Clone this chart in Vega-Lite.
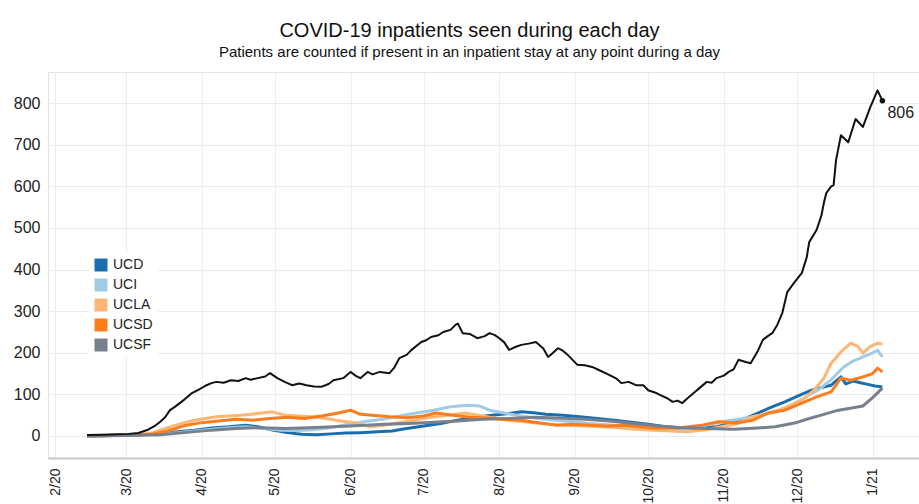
{
  "$schema": "https://vega.github.io/schema/vega-lite/v6.json",
  "width": 871,
  "height": 386,
  "autosize": {"type": "none"},
  "padding": {"left": 48, "top": 72, "right": 0, "bottom": 46},
  "background": "white",
  "config": {
    "font": "Liberation Sans",
    "view": {"stroke": "#e2e2e2", "strokeWidth": 1}
  },
  "title": {
    "text": "COVID-19 inpatients seen during each day",
    "subtitle": "Patients are counted if present in an inpatient stay at any point during a day",
    "anchor": "middle",
    "dx": -14,
    "offset": 12,
    "font": "Liberation Sans",
    "fontSize": 20,
    "fontWeight": "normal",
    "color": "#111111",
    "subtitleFont": "Liberation Sans",
    "subtitleFontSize": 15,
    "subtitleColor": "#111111",
    "subtitlePadding": 4
  },
  "datasets": {
    "total": [
      {"date": "2020-02-14", "value": 2}, {"date": "2020-02-20", "value": 3}, {"date": "2020-02-26", "value": 4},
      {"date": "2020-03-02", "value": 5}, {"date": "2020-03-06", "value": 7}, {"date": "2020-03-10", "value": 15},
      {"date": "2020-03-13", "value": 25}, {"date": "2020-03-15", "value": 34}, {"date": "2020-03-17", "value": 45},
      {"date": "2020-03-19", "value": 62}, {"date": "2020-03-21", "value": 70}, {"date": "2020-03-23", "value": 79},
      {"date": "2020-03-25", "value": 88}, {"date": "2020-03-28", "value": 103}, {"date": "2020-03-31", "value": 112},
      {"date": "2020-04-03", "value": 122}, {"date": "2020-04-05", "value": 127}, {"date": "2020-04-07", "value": 130},
      {"date": "2020-04-10", "value": 128}, {"date": "2020-04-13", "value": 134}, {"date": "2020-04-16", "value": 132},
      {"date": "2020-04-19", "value": 139}, {"date": "2020-04-21", "value": 135}, {"date": "2020-04-24", "value": 139},
      {"date": "2020-04-27", "value": 143}, {"date": "2020-04-29", "value": 151}, {"date": "2020-05-02", "value": 139},
      {"date": "2020-05-05", "value": 130}, {"date": "2020-05-08", "value": 122}, {"date": "2020-05-11", "value": 126},
      {"date": "2020-05-14", "value": 122}, {"date": "2020-05-17", "value": 119}, {"date": "2020-05-20", "value": 118},
      {"date": "2020-05-23", "value": 125}, {"date": "2020-05-25", "value": 134}, {"date": "2020-05-29", "value": 139},
      {"date": "2020-06-01", "value": 154}, {"date": "2020-06-03", "value": 145}, {"date": "2020-06-05", "value": 139},
      {"date": "2020-06-08", "value": 154}, {"date": "2020-06-10", "value": 148}, {"date": "2020-06-13", "value": 154},
      {"date": "2020-06-17", "value": 151}, {"date": "2020-06-19", "value": 165}, {"date": "2020-06-21", "value": 187},
      {"date": "2020-06-24", "value": 195}, {"date": "2020-06-26", "value": 207}, {"date": "2020-06-30", "value": 226},
      {"date": "2020-07-02", "value": 230}, {"date": "2020-07-04", "value": 238}, {"date": "2020-07-07", "value": 242},
      {"date": "2020-07-09", "value": 250}, {"date": "2020-07-12", "value": 255}, {"date": "2020-07-14", "value": 267},
      {"date": "2020-07-15", "value": 270}, {"date": "2020-07-17", "value": 247}, {"date": "2020-07-20", "value": 245},
      {"date": "2020-07-23", "value": 235}, {"date": "2020-07-26", "value": 240}, {"date": "2020-07-28", "value": 247},
      {"date": "2020-07-30", "value": 243}, {"date": "2020-08-01", "value": 235}, {"date": "2020-08-03", "value": 225},
      {"date": "2020-08-05", "value": 207}, {"date": "2020-08-08", "value": 215}, {"date": "2020-08-10", "value": 219},
      {"date": "2020-08-13", "value": 222}, {"date": "2020-08-16", "value": 226}, {"date": "2020-08-19", "value": 210},
      {"date": "2020-08-21", "value": 190}, {"date": "2020-08-23", "value": 200}, {"date": "2020-08-25", "value": 211},
      {"date": "2020-08-27", "value": 205}, {"date": "2020-08-29", "value": 195}, {"date": "2020-09-02", "value": 171},
      {"date": "2020-09-05", "value": 170}, {"date": "2020-09-08", "value": 166}, {"date": "2020-09-11", "value": 158},
      {"date": "2020-09-15", "value": 147}, {"date": "2020-09-18", "value": 138}, {"date": "2020-09-20", "value": 127},
      {"date": "2020-09-23", "value": 130}, {"date": "2020-09-26", "value": 122}, {"date": "2020-09-29", "value": 122},
      {"date": "2020-10-01", "value": 110}, {"date": "2020-10-04", "value": 104}, {"date": "2020-10-06", "value": 98},
      {"date": "2020-10-09", "value": 90}, {"date": "2020-10-11", "value": 82}, {"date": "2020-10-13", "value": 85},
      {"date": "2020-10-15", "value": 79}, {"date": "2020-10-17", "value": 90}, {"date": "2020-10-20", "value": 105},
      {"date": "2020-10-22", "value": 115}, {"date": "2020-10-25", "value": 130}, {"date": "2020-10-27", "value": 128},
      {"date": "2020-10-29", "value": 139}, {"date": "2020-11-01", "value": 145}, {"date": "2020-11-03", "value": 154},
      {"date": "2020-11-05", "value": 160}, {"date": "2020-11-07", "value": 183}, {"date": "2020-11-10", "value": 178},
      {"date": "2020-11-12", "value": 175}, {"date": "2020-11-15", "value": 205}, {"date": "2020-11-17", "value": 231},
      {"date": "2020-11-19", "value": 240}, {"date": "2020-11-21", "value": 248}, {"date": "2020-11-23", "value": 268},
      {"date": "2020-11-25", "value": 296}, {"date": "2020-11-27", "value": 346}, {"date": "2020-11-30", "value": 370},
      {"date": "2020-12-03", "value": 392}, {"date": "2020-12-05", "value": 430}, {"date": "2020-12-06", "value": 466},
      {"date": "2020-12-09", "value": 495}, {"date": "2020-12-11", "value": 530}, {"date": "2020-12-12", "value": 560},
      {"date": "2020-12-13", "value": 584}, {"date": "2020-12-15", "value": 600}, {"date": "2020-12-16", "value": 603},
      {"date": "2020-12-17", "value": 663}, {"date": "2020-12-19", "value": 723}, {"date": "2020-12-22", "value": 706},
      {"date": "2020-12-25", "value": 762}, {"date": "2020-12-28", "value": 743}, {"date": "2020-12-31", "value": 790},
      {"date": "2021-01-03", "value": 831}, {"date": "2021-01-05", "value": 806}
    ],
    "last": [{"date": "2021-01-05", "value": 806, "label": "806"}],
    "campus": [
      {"campus": "UCD", "date": "2020-02-14", "value": 0}, {"campus": "UCD", "date": "2020-02-25", "value": 1},
      {"campus": "UCD", "date": "2020-03-05", "value": 2}, {"campus": "UCD", "date": "2020-03-15", "value": 5},
      {"campus": "UCD", "date": "2020-03-22", "value": 10}, {"campus": "UCD", "date": "2020-03-29", "value": 14},
      {"campus": "UCD", "date": "2020-04-05", "value": 19}, {"campus": "UCD", "date": "2020-04-12", "value": 22},
      {"campus": "UCD", "date": "2020-04-19", "value": 26}, {"campus": "UCD", "date": "2020-04-24", "value": 22},
      {"campus": "UCD", "date": "2020-04-30", "value": 14}, {"campus": "UCD", "date": "2020-05-06", "value": 8},
      {"campus": "UCD", "date": "2020-05-12", "value": 4}, {"campus": "UCD", "date": "2020-05-18", "value": 3},
      {"campus": "UCD", "date": "2020-05-24", "value": 5}, {"campus": "UCD", "date": "2020-05-30", "value": 7},
      {"campus": "UCD", "date": "2020-06-05", "value": 8}, {"campus": "UCD", "date": "2020-06-12", "value": 10},
      {"campus": "UCD", "date": "2020-06-18", "value": 12}, {"campus": "UCD", "date": "2020-06-24", "value": 18},
      {"campus": "UCD", "date": "2020-07-01", "value": 24}, {"campus": "UCD", "date": "2020-07-08", "value": 30},
      {"campus": "UCD", "date": "2020-07-15", "value": 38}, {"campus": "UCD", "date": "2020-07-22", "value": 45},
      {"campus": "UCD", "date": "2020-07-29", "value": 50}, {"campus": "UCD", "date": "2020-08-05", "value": 54},
      {"campus": "UCD", "date": "2020-08-10", "value": 58}, {"campus": "UCD", "date": "2020-08-15", "value": 56},
      {"campus": "UCD", "date": "2020-08-20", "value": 52}, {"campus": "UCD", "date": "2020-08-27", "value": 50},
      {"campus": "UCD", "date": "2020-09-03", "value": 46}, {"campus": "UCD", "date": "2020-09-10", "value": 42},
      {"campus": "UCD", "date": "2020-09-17", "value": 38}, {"campus": "UCD", "date": "2020-09-24", "value": 33},
      {"campus": "UCD", "date": "2020-10-01", "value": 28}, {"campus": "UCD", "date": "2020-10-08", "value": 22},
      {"campus": "UCD", "date": "2020-10-15", "value": 19}, {"campus": "UCD", "date": "2020-10-22", "value": 19},
      {"campus": "UCD", "date": "2020-10-29", "value": 22}, {"campus": "UCD", "date": "2020-11-05", "value": 32},
      {"campus": "UCD", "date": "2020-11-10", "value": 42}, {"campus": "UCD", "date": "2020-11-15", "value": 55},
      {"campus": "UCD", "date": "2020-11-20", "value": 68}, {"campus": "UCD", "date": "2020-11-26", "value": 82},
      {"campus": "UCD", "date": "2020-12-01", "value": 95}, {"campus": "UCD", "date": "2020-12-06", "value": 108},
      {"campus": "UCD", "date": "2020-12-10", "value": 115}, {"campus": "UCD", "date": "2020-12-15", "value": 122},
      {"campus": "UCD", "date": "2020-12-19", "value": 142}, {"campus": "UCD", "date": "2020-12-21", "value": 125},
      {"campus": "UCD", "date": "2020-12-24", "value": 132}, {"campus": "UCD", "date": "2020-12-27", "value": 128},
      {"campus": "UCD", "date": "2020-12-30", "value": 124}, {"campus": "UCD", "date": "2021-01-02", "value": 120},
      {"campus": "UCD", "date": "2021-01-05", "value": 118},

      {"campus": "UCI", "date": "2020-02-14", "value": 0}, {"campus": "UCI", "date": "2020-02-25", "value": 1},
      {"campus": "UCI", "date": "2020-03-05", "value": 2}, {"campus": "UCI", "date": "2020-03-15", "value": 4},
      {"campus": "UCI", "date": "2020-03-22", "value": 8}, {"campus": "UCI", "date": "2020-03-29", "value": 12},
      {"campus": "UCI", "date": "2020-04-05", "value": 16}, {"campus": "UCI", "date": "2020-04-12", "value": 20},
      {"campus": "UCI", "date": "2020-04-19", "value": 22}, {"campus": "UCI", "date": "2020-04-26", "value": 18},
      {"campus": "UCI", "date": "2020-05-03", "value": 14}, {"campus": "UCI", "date": "2020-05-10", "value": 13},
      {"campus": "UCI", "date": "2020-05-17", "value": 15}, {"campus": "UCI", "date": "2020-05-24", "value": 20},
      {"campus": "UCI", "date": "2020-05-31", "value": 28}, {"campus": "UCI", "date": "2020-06-07", "value": 35},
      {"campus": "UCI", "date": "2020-06-14", "value": 40}, {"campus": "UCI", "date": "2020-06-21", "value": 48},
      {"campus": "UCI", "date": "2020-06-28", "value": 55}, {"campus": "UCI", "date": "2020-07-05", "value": 62},
      {"campus": "UCI", "date": "2020-07-12", "value": 70}, {"campus": "UCI", "date": "2020-07-19", "value": 74},
      {"campus": "UCI", "date": "2020-07-24", "value": 72}, {"campus": "UCI", "date": "2020-07-28", "value": 62},
      {"campus": "UCI", "date": "2020-08-03", "value": 55}, {"campus": "UCI", "date": "2020-08-10", "value": 48},
      {"campus": "UCI", "date": "2020-08-17", "value": 42}, {"campus": "UCI", "date": "2020-08-24", "value": 38},
      {"campus": "UCI", "date": "2020-08-31", "value": 34}, {"campus": "UCI", "date": "2020-09-07", "value": 30},
      {"campus": "UCI", "date": "2020-09-14", "value": 27}, {"campus": "UCI", "date": "2020-09-21", "value": 24},
      {"campus": "UCI", "date": "2020-09-28", "value": 20}, {"campus": "UCI", "date": "2020-10-05", "value": 16},
      {"campus": "UCI", "date": "2020-10-12", "value": 14}, {"campus": "UCI", "date": "2020-10-19", "value": 18},
      {"campus": "UCI", "date": "2020-10-26", "value": 28}, {"campus": "UCI", "date": "2020-11-02", "value": 36},
      {"campus": "UCI", "date": "2020-11-09", "value": 42}, {"campus": "UCI", "date": "2020-11-16", "value": 50},
      {"campus": "UCI", "date": "2020-11-22", "value": 58}, {"campus": "UCI", "date": "2020-11-29", "value": 75},
      {"campus": "UCI", "date": "2020-12-05", "value": 95}, {"campus": "UCI", "date": "2020-12-10", "value": 112},
      {"campus": "UCI", "date": "2020-12-15", "value": 135}, {"campus": "UCI", "date": "2020-12-20", "value": 165},
      {"campus": "UCI", "date": "2020-12-24", "value": 180}, {"campus": "UCI", "date": "2020-12-28", "value": 190},
      {"campus": "UCI", "date": "2021-01-01", "value": 200}, {"campus": "UCI", "date": "2021-01-03", "value": 206},
      {"campus": "UCI", "date": "2021-01-05", "value": 190},

      {"campus": "UCLA", "date": "2020-02-14", "value": 0}, {"campus": "UCLA", "date": "2020-02-25", "value": 1},
      {"campus": "UCLA", "date": "2020-03-05", "value": 2}, {"campus": "UCLA", "date": "2020-03-12", "value": 8},
      {"campus": "UCLA", "date": "2020-03-18", "value": 20}, {"campus": "UCLA", "date": "2020-03-25", "value": 32},
      {"campus": "UCLA", "date": "2020-03-29", "value": 38}, {"campus": "UCLA", "date": "2020-04-07", "value": 46},
      {"campus": "UCLA", "date": "2020-04-17", "value": 50}, {"campus": "UCLA", "date": "2020-04-24", "value": 54},
      {"campus": "UCLA", "date": "2020-04-30", "value": 58}, {"campus": "UCLA", "date": "2020-05-05", "value": 50},
      {"campus": "UCLA", "date": "2020-05-11", "value": 48}, {"campus": "UCLA", "date": "2020-05-16", "value": 46},
      {"campus": "UCLA", "date": "2020-05-22", "value": 42}, {"campus": "UCLA", "date": "2020-05-26", "value": 38},
      {"campus": "UCLA", "date": "2020-06-03", "value": 31}, {"campus": "UCLA", "date": "2020-06-09", "value": 22},
      {"campus": "UCLA", "date": "2020-06-15", "value": 26}, {"campus": "UCLA", "date": "2020-06-20", "value": 31},
      {"campus": "UCLA", "date": "2020-06-27", "value": 38}, {"campus": "UCLA", "date": "2020-07-04", "value": 45},
      {"campus": "UCLA", "date": "2020-07-11", "value": 50}, {"campus": "UCLA", "date": "2020-07-18", "value": 55},
      {"campus": "UCLA", "date": "2020-07-25", "value": 48}, {"campus": "UCLA", "date": "2020-08-01", "value": 40},
      {"campus": "UCLA", "date": "2020-08-08", "value": 36}, {"campus": "UCLA", "date": "2020-08-15", "value": 32},
      {"campus": "UCLA", "date": "2020-08-22", "value": 28}, {"campus": "UCLA", "date": "2020-08-29", "value": 25},
      {"campus": "UCLA", "date": "2020-09-05", "value": 24}, {"campus": "UCLA", "date": "2020-09-12", "value": 22},
      {"campus": "UCLA", "date": "2020-09-19", "value": 20}, {"campus": "UCLA", "date": "2020-09-26", "value": 16},
      {"campus": "UCLA", "date": "2020-10-03", "value": 14}, {"campus": "UCLA", "date": "2020-10-10", "value": 12},
      {"campus": "UCLA", "date": "2020-10-17", "value": 10}, {"campus": "UCLA", "date": "2020-10-24", "value": 14},
      {"campus": "UCLA", "date": "2020-10-31", "value": 22}, {"campus": "UCLA", "date": "2020-11-07", "value": 30},
      {"campus": "UCLA", "date": "2020-11-13", "value": 46}, {"campus": "UCLA", "date": "2020-11-20", "value": 55},
      {"campus": "UCLA", "date": "2020-11-27", "value": 70}, {"campus": "UCLA", "date": "2020-12-03", "value": 86},
      {"campus": "UCLA", "date": "2020-12-08", "value": 110}, {"campus": "UCLA", "date": "2020-12-12", "value": 139},
      {"campus": "UCLA", "date": "2020-12-15", "value": 175}, {"campus": "UCLA", "date": "2020-12-19", "value": 202},
      {"campus": "UCLA", "date": "2020-12-23", "value": 223}, {"campus": "UCLA", "date": "2020-12-26", "value": 215},
      {"campus": "UCLA", "date": "2020-12-28", "value": 199}, {"campus": "UCLA", "date": "2020-12-31", "value": 215},
      {"campus": "UCLA", "date": "2021-01-03", "value": 223}, {"campus": "UCLA", "date": "2021-01-05", "value": 221},

      {"campus": "UCSD", "date": "2020-02-14", "value": 0}, {"campus": "UCSD", "date": "2020-02-25", "value": 1},
      {"campus": "UCSD", "date": "2020-03-05", "value": 2}, {"campus": "UCSD", "date": "2020-03-12", "value": 5},
      {"campus": "UCSD", "date": "2020-03-18", "value": 12}, {"campus": "UCSD", "date": "2020-03-25", "value": 25},
      {"campus": "UCSD", "date": "2020-04-01", "value": 32}, {"campus": "UCSD", "date": "2020-04-08", "value": 36},
      {"campus": "UCSD", "date": "2020-04-15", "value": 40}, {"campus": "UCSD", "date": "2020-04-22", "value": 38},
      {"campus": "UCSD", "date": "2020-04-29", "value": 42}, {"campus": "UCSD", "date": "2020-05-06", "value": 45},
      {"campus": "UCSD", "date": "2020-05-13", "value": 42}, {"campus": "UCSD", "date": "2020-05-20", "value": 48},
      {"campus": "UCSD", "date": "2020-05-27", "value": 55}, {"campus": "UCSD", "date": "2020-06-01", "value": 62},
      {"campus": "UCSD", "date": "2020-06-05", "value": 52}, {"campus": "UCSD", "date": "2020-06-10", "value": 50},
      {"campus": "UCSD", "date": "2020-06-17", "value": 46}, {"campus": "UCSD", "date": "2020-06-24", "value": 44},
      {"campus": "UCSD", "date": "2020-07-01", "value": 48}, {"campus": "UCSD", "date": "2020-07-06", "value": 55},
      {"campus": "UCSD", "date": "2020-07-13", "value": 50}, {"campus": "UCSD", "date": "2020-07-20", "value": 45},
      {"campus": "UCSD", "date": "2020-07-27", "value": 43}, {"campus": "UCSD", "date": "2020-08-03", "value": 40},
      {"campus": "UCSD", "date": "2020-08-10", "value": 38}, {"campus": "UCSD", "date": "2020-08-17", "value": 32},
      {"campus": "UCSD", "date": "2020-08-24", "value": 26}, {"campus": "UCSD", "date": "2020-08-31", "value": 28},
      {"campus": "UCSD", "date": "2020-09-07", "value": 26}, {"campus": "UCSD", "date": "2020-09-14", "value": 24},
      {"campus": "UCSD", "date": "2020-09-22", "value": 26}, {"campus": "UCSD", "date": "2020-10-02", "value": 19},
      {"campus": "UCSD", "date": "2020-10-13", "value": 19}, {"campus": "UCSD", "date": "2020-10-23", "value": 26},
      {"campus": "UCSD", "date": "2020-10-30", "value": 34}, {"campus": "UCSD", "date": "2020-11-06", "value": 31},
      {"campus": "UCSD", "date": "2020-11-13", "value": 38}, {"campus": "UCSD", "date": "2020-11-19", "value": 55},
      {"campus": "UCSD", "date": "2020-11-26", "value": 62}, {"campus": "UCSD", "date": "2020-12-03", "value": 79},
      {"campus": "UCSD", "date": "2020-12-09", "value": 94}, {"campus": "UCSD", "date": "2020-12-15", "value": 106},
      {"campus": "UCSD", "date": "2020-12-19", "value": 139}, {"campus": "UCSD", "date": "2020-12-23", "value": 134},
      {"campus": "UCSD", "date": "2020-12-28", "value": 142}, {"campus": "UCSD", "date": "2021-01-01", "value": 150},
      {"campus": "UCSD", "date": "2021-01-03", "value": 163}, {"campus": "UCSD", "date": "2021-01-05", "value": 154},

      {"campus": "UCSF", "date": "2020-02-14", "value": 0}, {"campus": "UCSF", "date": "2020-03-01", "value": 1},
      {"campus": "UCSF", "date": "2020-03-15", "value": 3}, {"campus": "UCSF", "date": "2020-03-25", "value": 8},
      {"campus": "UCSF", "date": "2020-04-05", "value": 14}, {"campus": "UCSF", "date": "2020-04-15", "value": 18},
      {"campus": "UCSF", "date": "2020-04-25", "value": 20}, {"campus": "UCSF", "date": "2020-05-05", "value": 18},
      {"campus": "UCSF", "date": "2020-05-15", "value": 20}, {"campus": "UCSF", "date": "2020-05-25", "value": 22},
      {"campus": "UCSF", "date": "2020-06-05", "value": 25}, {"campus": "UCSF", "date": "2020-06-15", "value": 28},
      {"campus": "UCSF", "date": "2020-06-25", "value": 30}, {"campus": "UCSF", "date": "2020-07-05", "value": 33},
      {"campus": "UCSF", "date": "2020-07-15", "value": 36}, {"campus": "UCSF", "date": "2020-07-25", "value": 40},
      {"campus": "UCSF", "date": "2020-08-05", "value": 42}, {"campus": "UCSF", "date": "2020-08-15", "value": 45},
      {"campus": "UCSF", "date": "2020-08-25", "value": 43}, {"campus": "UCSF", "date": "2020-09-05", "value": 40},
      {"campus": "UCSF", "date": "2020-09-15", "value": 36}, {"campus": "UCSF", "date": "2020-09-25", "value": 30},
      {"campus": "UCSF", "date": "2020-10-05", "value": 24}, {"campus": "UCSF", "date": "2020-10-15", "value": 20},
      {"campus": "UCSF", "date": "2020-10-25", "value": 18}, {"campus": "UCSF", "date": "2020-11-05", "value": 16},
      {"campus": "UCSF", "date": "2020-11-15", "value": 19}, {"campus": "UCSF", "date": "2020-11-22", "value": 22},
      {"campus": "UCSF", "date": "2020-11-30", "value": 31}, {"campus": "UCSF", "date": "2020-12-06", "value": 42},
      {"campus": "UCSF", "date": "2020-12-12", "value": 52}, {"campus": "UCSF", "date": "2020-12-18", "value": 62},
      {"campus": "UCSF", "date": "2020-12-24", "value": 68}, {"campus": "UCSF", "date": "2020-12-28", "value": 72},
      {"campus": "UCSF", "date": "2021-01-01", "value": 92}, {"campus": "UCSF", "date": "2021-01-05", "value": 115}
    ]
  },
  "layer": [
    {
      "data": {"name": "campus"},
      "mark": {"type": "line", "strokeWidth": 3, "strokeJoin": "round"},
      "encoding": {
        "x": {
          "field": "date", "type": "temporal",
          "scale": {"domain": ["2020-01-29", "2021-01-20"]},
          "axis": {
            "title": null, "format": "%-m/%y", "tickCount": {"interval": "month", "step": 1},
            "labelAngle": -90, "labelAlign": "right", "labelBaseline": "middle",
            "labelFontSize": 14, "labelColor": "#222222", "labelPadding": 10,
            "ticks": false, "domainColor": "#c8c8c8", "domainWidth": 2,
            "grid": true, "gridColor": "#ececec", "gridWidth": 1, "labelFlush": false, "labelOverlap": false
          }
        },
        "y": {
          "field": "value", "type": "quantitative",
          "scale": {"domain": [-53, 875], "nice": false, "zero": false},
          "axis": {
            "title": null, "values": [0, 100, 200, 300, 400, 500, 600, 700, 800],
            "labelFontSize": 16, "labelColor": "#222222", "labelPadding": 8,
            "ticks": false, "domain": false, "grid": true, "gridColor": "#ececec", "gridWidth": 1
          }
        },
        "color": {
          "field": "campus", "type": "nominal",
          "scale": {"domain": ["UCD", "UCI", "UCLA", "UCSD", "UCSF"], "range": ["#1a6ead", "#9fcbe9", "#fdb774", "#fd7d1c", "#78808e"]},
          "legend": {
            "title": null, "orient": "none", "legendX": 41, "legendY": 181,
            "symbolType": "square", "symbolSize": 169, "symbolStrokeWidth": 0,
            "labelFontSize": 14, "labelColor": "#222222", "labelOffset": 5, "rowPadding": 6,
            "fillColor": "white", "padding": 5,
            "encode": {
              "symbols": {
                "update": {
                  "fill": {"scale": "color", "field": "value"},
                  "fillOpacity": {"value": 1},
                  "strokeWidth": {"value": 0}
                }
              }
            }
          }
        }
      }
    },
    {
      "data": {"name": "total"},
      "mark": {"type": "line", "color": "#111111", "strokeWidth": 2, "strokeJoin": "round"},
      "encoding": {
        "x": {"field": "date", "type": "temporal"},
        "y": {"field": "value", "type": "quantitative"}
      }
    },
    {
      "data": {"name": "last"},
      "mark": {"type": "point", "filled": true, "color": "#111111", "size": 30, "opacity": 1},
      "encoding": {
        "x": {"field": "date", "type": "temporal"},
        "y": {"field": "value", "type": "quantitative"}
      }
    },
    {
      "data": {"name": "last"},
      "mark": {"type": "text", "align": "left", "baseline": "middle", "dx": 5, "dy": 12, "fontSize": 16, "color": "#222222"},
      "encoding": {
        "x": {"field": "date", "type": "temporal"},
        "y": {"field": "value", "type": "quantitative"},
        "text": {"field": "label"}
      }
    }
  ]
}
